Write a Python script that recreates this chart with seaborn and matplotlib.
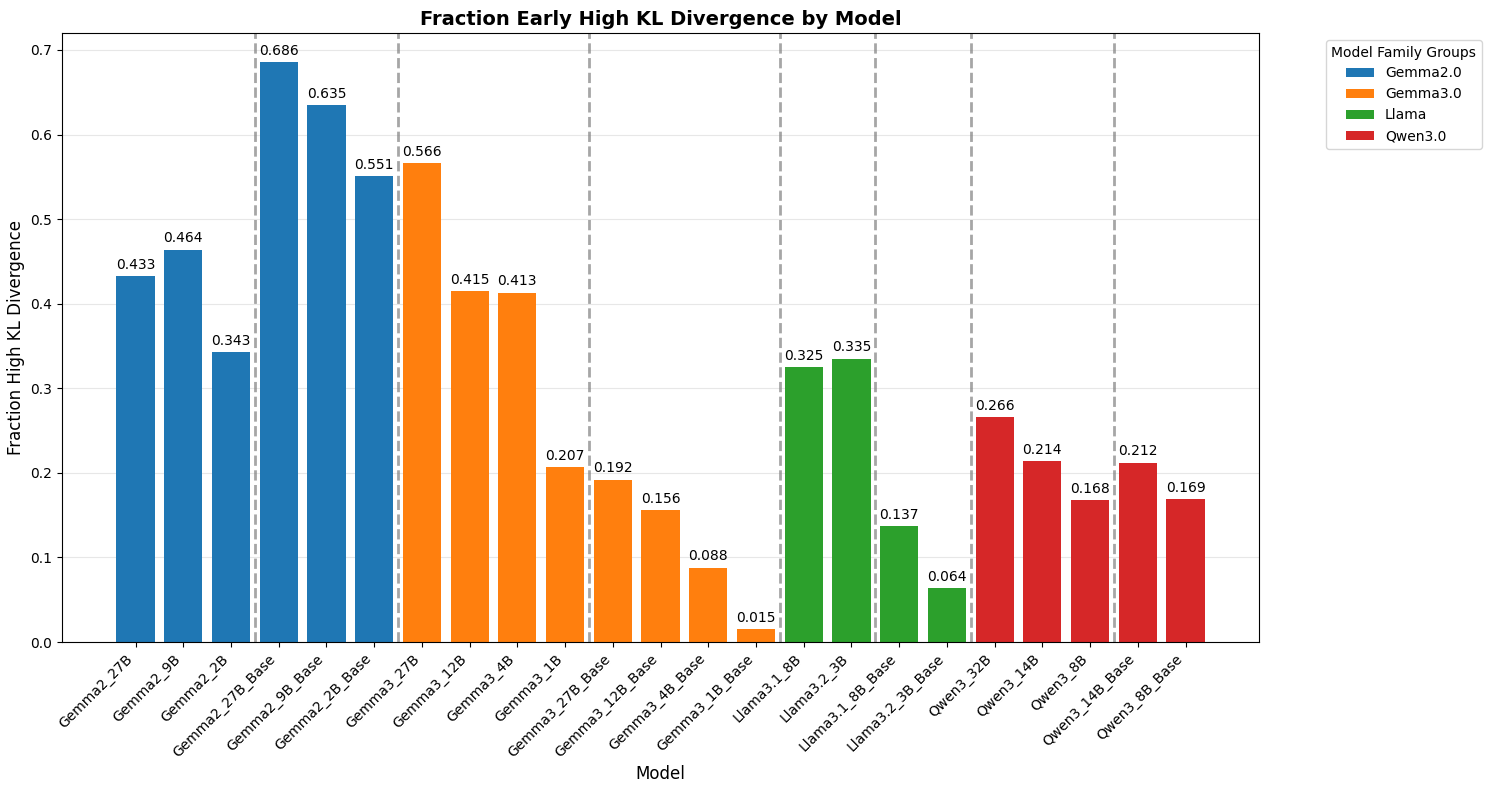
import pandas as pd
import matplotlib
matplotlib.use('Agg')
import matplotlib.pyplot as plt
import seaborn as sns

# Data
models = ['Gemma2_27B', 'Gemma2_9B', 'Gemma2_2B', 'Gemma2_27B_Base', 'Gemma2_9B_Base', 'Gemma2_2B_Base',
          'Gemma3_27B', 'Gemma3_12B', 'Gemma3_4B', 'Gemma3_1B', 'Gemma3_27B_Base', 'Gemma3_12B_Base',
          'Gemma3_4B_Base', 'Gemma3_1B_Base',
          'Llama3.1_8B', 'Llama3.2_3B', 'Llama3.1_8B_Base', 'Llama3.2_3B_Base',
          'Qwen3_32B', 'Qwen3_14B', 'Qwen3_8B', 'Qwen3_14B_Base', 'Qwen3_8B_Base']
families = ['Gemma2.0'] * 6 + ['Gemma3.0'] * 8 + ['Llama'] * 4 + ['Qwen3.0'] * 5
fractions = [0.433, 0.464, 0.343, 0.686, 0.635, 0.551,
             0.566, 0.415, 0.413, 0.207, 0.192, 0.156, 0.088, 0.015,
             0.325, 0.335, 0.137, 0.064,
             0.266, 0.214, 0.168, 0.212, 0.169]
family_order = ['Gemma2.0', 'Gemma3.0', 'Llama', 'Qwen3.0']
# group boundaries (between bar indices)
separators = [2.5, 5.5, 9.5, 13.5, 15.5, 17.5, 20.5]

df = pd.DataFrame({'Model': models, 'Family': families, 'Fraction': fractions})

fig, ax = plt.subplots(figsize=(14.91, 7.9), dpi=100)
sns.barplot(data=df, x='Model', y='Fraction', hue='Family', hue_order=family_order,
            palette=sns.color_palette('tab10', 4), dodge=False, width=0.8,
            errorbar=None, saturation=1, ax=ax)

# value labels on top of bars
for i, v in enumerate(fractions):
    ax.text(i, v + 0.005, f'{v:.3f}', ha='center', va='bottom', fontsize=10)

for s in separators:
    ax.axvline(s, color='gray', linestyle='--', linewidth=2, alpha=0.7)

ax.set_xlim(-1.54, len(models) + 0.54)
ax.set_ylim(0, 0.72)
ax.grid(axis='y', alpha=0.3)
ax.set_axisbelow(True)
plt.setp(ax.get_xticklabels(), rotation=45, ha='right')

ax.set_xlabel('Model', fontsize=12)
ax.set_ylabel('Fraction High KL Divergence', fontsize=12)
ax.set_title('Fraction Early High KL Divergence by Model', fontsize=14, fontweight='bold')
ax.legend(title='Model Family Groups', bbox_to_anchor=(1.05, 1), loc='upper left')

plt.subplots_adjust(left=0.0416, right=0.8444, top=0.9582, bottom=0.1873)
plt.savefig('out.png', dpi=100)
